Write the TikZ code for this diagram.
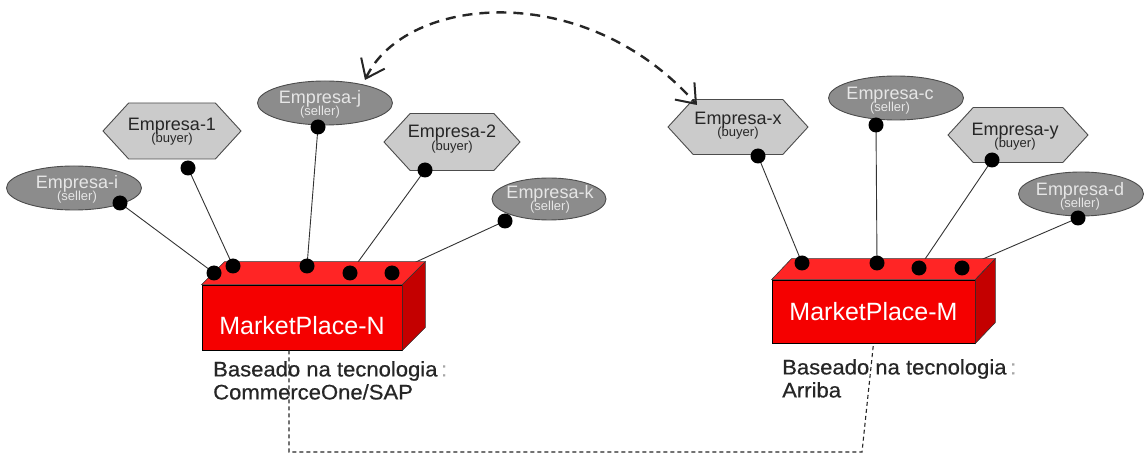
\documentclass[tikz,border=0pt]{standalone}
\usepackage{fontspec}
\setmainfont{Liberation Sans}
\newfontfamily\notefont[FakeStretch=1.05,FakeBold=0.6]{Liberation Sans}
\usetikzlibrary{shapes.geometric,shapes.symbols,arrows.meta,calc}
\pgfdeclarelayer{bg}
\pgfsetlayers{bg,main}

\definecolor{sellerfill}{HTML}{8C8C8C}
\definecolor{sellertext}{HTML}{E6E6E6}
\definecolor{buyerfill}{HTML}{CBCBCB}
\definecolor{mpfront}{HTML}{F50000}
\definecolor{mptop}{HTML}{FF2525}
\definecolor{mpside}{HTML}{C40000}

% two-line company label: name above, role below
\newcommand\firm[2]{{\fontsize{18}{18}\selectfont #1}\\[-2pt]{\fontsize{13}{13}\selectfont (#2)}}

\tikzset{
  seller/.style={ellipse, fill=sellerfill, draw=black!70, line width=0.9pt, inner sep=0pt},
  buyer/.style={signal, signal to=west and east, signal pointer angle=95,
    fill=buyerfill, draw=black!70, line width=0.9pt, inner sep=0pt},
  sellerlabel/.style={text=sellertext, align=center, inner sep=0pt},
  buyerlabel/.style={text=black!85, align=center, inner sep=0pt},
  dot/.style={circle, fill=black, inner sep=0pt, minimum size=15pt},
  link/.style={draw=black!80, line width=0.9pt},
  frontface/.style={rectangle, fill=mpfront, draw=black, line width=0.8pt, inner sep=0pt},
  facedraw/.style={draw=black!80, line width=0.6pt},
  mptitle/.style={text=white, inner sep=0pt, font=\fontsize{25}{25}\selectfont},
  note/.style={anchor=north west, align=left, inner sep=0pt, text=black!85,
    font=\notefont\fontsize{21}{23}\selectfont},
  tie/.style={draw=black!85, line width=1.1pt, dash pattern=on 4pt off 3pt},
  swaparrow/.style={draw=black!85, line width=2.4pt, dash pattern=on 10pt off 7pt,
    {Straight Barb[length=17pt,width=26pt,line width=2pt]}-{Straight Barb[length=17pt,width=26pt,line width=2pt]}}
}

\begin{document}
\begin{tikzpicture}[x=1pt,y=-1pt]
\useasboundingbox (0,0) rectangle (1146,454);

% ---- companies around MarketPlace-N ----
\node[seller, minimum width=135pt, minimum height=44pt] (ei) at (74,188) {};
\node[sellerlabel] (ti) at (77,189) {\firm{Empresa-i}{seller}};
\node[buyer, minimum width=138pt, minimum height=56pt] (e1) at (172,131) {};
\node[buyerlabel] (t1) at (172,132) {\firm{Empresa-1}{buyer}};
\node[seller, minimum width=135pt, minimum height=44pt] (ej) at (325,103) {};
\node[sellerlabel] (tj) at (320,104) {\firm{Empresa-j}{seller}};
\node[buyer, minimum width=136pt, minimum height=57pt] (e2) at (452,142) {};
\node[buyerlabel] (t2) at (452,139) {\firm{Empresa-2}{buyer}};
\node[seller, minimum width=114pt, minimum height=42pt] (ek) at (549,199) {};
\node[sellerlabel] (tk) at (550,199) {\firm{Empresa-k}{seller}};

% ---- companies around MarketPlace-M ----
\node[buyer, minimum width=140pt, minimum height=55pt] (ex) at (738,127) {};
\node[buyerlabel] (tx) at (738,126) {\firm{Empresa-x}{buyer}};
\node[seller, minimum width=135pt, minimum height=44pt] (ec) at (896,98) {};
\node[sellerlabel] (tc) at (890,101) {\firm{Empresa-c}{seller}};
\node[buyer, minimum width=140pt, minimum height=55pt] (ey) at (1018,135) {};
\node[buyerlabel] (ty) at (1015,137) {\firm{Empresa-y}{buyer}};
\node[seller, minimum width=125pt, minimum height=44pt] (ed) at (1081,194) {};
\node[sellerlabel] (td) at (1080,196) {\firm{Empresa-d}{seller}};

% ---- MarketPlace-N box ----
\node[frontface, minimum width=200pt, minimum height=65pt] (bN) at (302,317.5) {};
\path[fill=mptop, facedraw] (bN.north west) -- ([shift={(23,-23)}]bN.north west)
  -- ([shift={(23,-23)}]bN.north east) -- (bN.north east) -- cycle;
\path[fill=mpside, facedraw] (bN.north east) -- ([shift={(23,-23)}]bN.north east)
  -- ([shift={(23,-23)}]bN.south east) -- (bN.south east) -- cycle;
\node[mptitle] (lN) at ([yshift=-8pt]bN.center) {MarketPlace-N};

% ---- MarketPlace-M box ----
\node[frontface, minimum width=203pt, minimum height=63pt] (bM) at (873.5,311.5) {};
\path[fill=mptop, facedraw] (bM.north west) -- ([shift={(20,-21)}]bM.north west)
  -- ([shift={(20,-21)}]bM.north east) -- (bM.north east) -- cycle;
\path[fill=mpside, facedraw] (bM.north east) -- ([shift={(20,-21)}]bM.north east)
  -- ([shift={(20,-21)}]bM.south east) -- (bM.south east) -- cycle;
\node[mptitle] (lM) at (bM.center) {MarketPlace-M};

% ---- technology notes ----
\node[note] (nN) at (213,361) {Baseado na tecnologia\,{\color{black!35}:}\\CommerceOne/SAP};
\node[note] (nM) at (782,359) {Baseado na tecnologia\,{\color{black!35}:}\\Arriba};

% ---- attachment dots ----
\node[dot] (di) at (120,203) {};
\node[dot] (d1) at (188,168) {};
\node[dot] (dj) at (318,127) {};
\node[dot] (d2) at (425,170) {};
\node[dot] (dk) at (505,221) {};
\node[dot] (dx) at (758,156) {};
\node[dot] (dc) at (876,125) {};
\node[dot] (dy) at (992,160) {};
\node[dot] (dd) at (1078,218) {};

\node[dot] (n1) at (214,273) {};
\node[dot] (n2) at (233,266) {};
\node[dot] (n3) at (307,266) {};
\node[dot] (n4) at (350,273) {};
\node[dot] (n5) at (392,273) {};
\node[dot] (m1) at (802,263) {};
\node[dot] (m2) at (877,263) {};
\node[dot] (m3) at (919,268) {};
\node[dot] (m4) at (962,268) {};

% ---- links from companies to marketplaces ----
\begin{pgfonlayer}{bg}
\draw[link] (di.center) -- (n1.center);
\draw[link] (d1.center) -- (n2.center);
\draw[link] (dj.center) -- (n3.center);
\draw[link] (d2.center) -- (n4.center);
\draw[link] (dk.center) -- (n5.center);
\draw[link] (dx.center) -- (m1.center);
\draw[link] (dc.center) -- (m2.center);
\draw[link] (dy.center) -- (m3.center);
\draw[link] (dd.center) -- (m4.center);
\end{pgfonlayer}

% ---- dashed tie between the two marketplaces ----
\coordinate (tieL) at (289,452);
\coordinate (tieR) at (862,452);
\draw[tie] ([xshift=-13pt]bN.south) -- (tieL) -- (tieR) -- (bM.south);

% ---- exchange between Empresa-j and Empresa-x ----
\coordinate (aj) at (365,80);
\coordinate (ax) at (697,105);
\draw[swaparrow] (aj) .. controls (405,-5) and (585,-22) .. (ax);
\end{tikzpicture}
\end{document}
